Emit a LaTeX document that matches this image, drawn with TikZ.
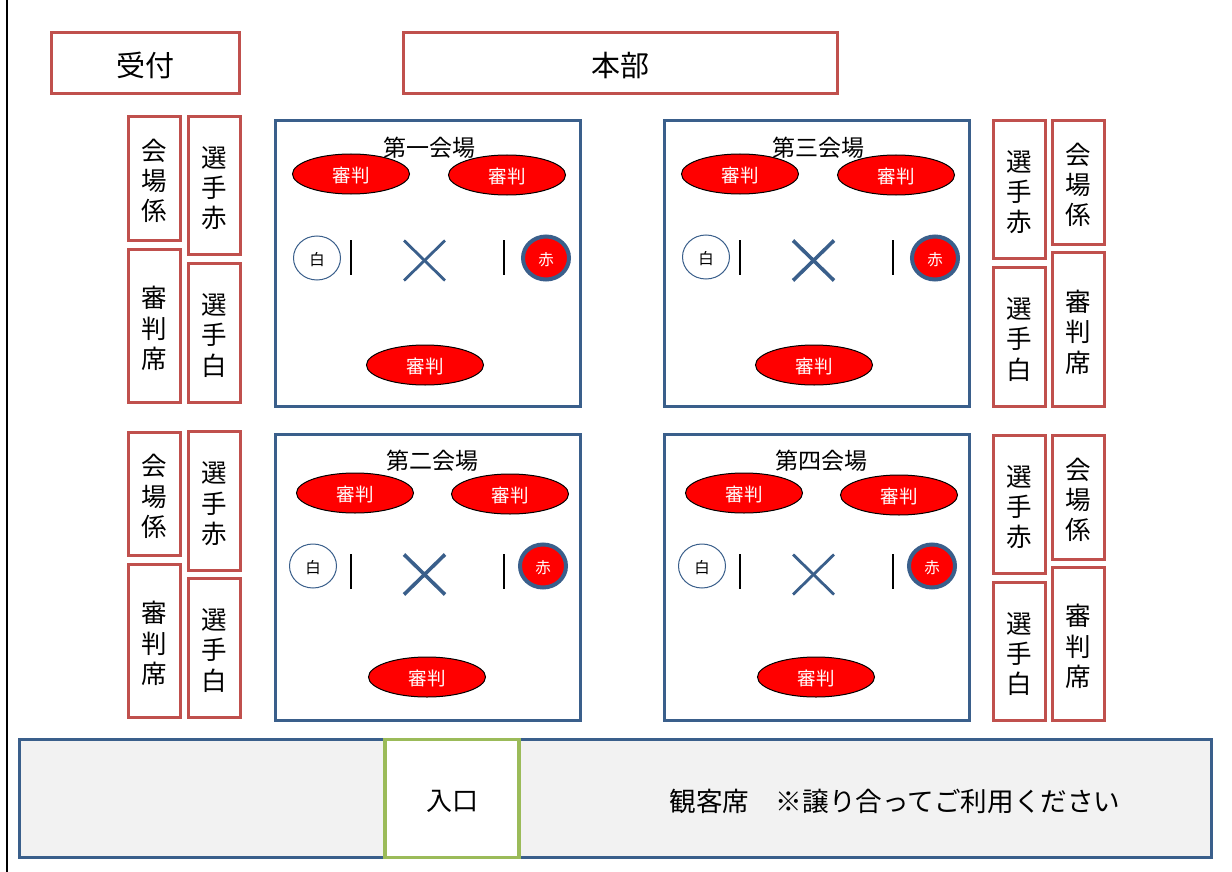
\documentclass[tikz,border=0pt]{standalone}
\usepackage{fontspec}
\setmainfont{Noto Sans CJK JP}
\usetikzlibrary{shapes,positioning}
\definecolor{bordred}{HTML}{C0504D}
\definecolor{bordblue}{HTML}{3A5F8B}
\definecolor{bordgreen}{HTML}{9BBB59}
\definecolor{seatgray}{HTML}{F2F2F2}
\newcommand{\tatetxt}[1]{\raisebox{-6pt}[\height][\depth]{\begin{tabular}{@{}c@{}}#1\end{tabular}}}
\tikzset{
    frame/.style={draw=bordred, line width=3.2pt, fill=white, inner sep=0pt},
    redbox/.style={frame, font=\fontsize{25.5}{30}\selectfont},
    topbox/.style={frame, font=\fontsize{29}{30}\selectfont, execute at begin node=\rule{0pt}{30pt}},
    hallbox/.style={draw=bordblue, line width=3.2pt, fill=white, inner sep=0pt, minimum width=305pt, minimum height=286pt},
    referee/.style={ellipse, draw=black, line width=1pt, fill=red, text=white, inner sep=0pt, minimum width=117pt, minimum height=40pt, font=\fontsize{18.5}{20}\selectfont, execute at begin node=\rule{0pt}{19pt}},
    whiteside/.style={ellipse, draw=bordblue, line width=1pt, fill=white, inner sep=0pt, minimum width=47pt, minimum height=44pt, font=\fontsize{15.5}{18}\selectfont, execute at begin node=\rule{0pt}{16pt}},
    redside/.style={ellipse, draw=bordblue, line width=4pt, fill=red, text=white, inner sep=0pt, minimum width=46pt, minimum height=43pt, font=\fontsize{15.5}{18}\selectfont, execute at begin node=\rule{0pt}{16pt}},
    hallname/.style={inner sep=0pt, font=\fontsize{23}{24}\selectfont},
    bar/.style={draw=black, line width=2.8pt},
    crossline/.style={draw=bordblue},
}
\begin{document}
\begin{tikzpicture}[x=1pt, y=-1pt]
    \useasboundingbox (0,0) rectangle (1232,872);
    \draw[black, line width=2.4pt] (7,0) -- (7,872);
    % top row
    \node[topbox, minimum width=188pt, minimum height=61pt] (uketsuke) at (145.5,63) {受付};
    \node[topbox, minimum width=434pt, minimum height=61pt] (honbu) at (620.5,63) {本部};
    % staff boxes
    \foreach \nm/\bx/\by/\bh/\txt in {
        la/154.5/178.5/124/{会\\場\\係}, lb/154.5/326/153/{審\\判\\席},
        lc/214.5/185.5/138/{選\\手\\赤}, ld/214.5/333/139/{選\\手\\白},
        le/154.5/494/123/{会\\場\\係}, lf/154.5/641/153/{審\\判\\席},
        lg/214.5/501/139/{選\\手\\赤}, lh/214.5/648/139/{選\\手\\白},
        ra/1019.5/189.5/138/{選\\手\\赤}, rb/1019.5/337/139/{選\\手\\白},
        rc/1078.5/182.5/124/{会\\場\\係}, rd/1078.5/329.5/154/{審\\判\\席},
        re/1019.5/504.5/138/{選\\手\\赤}, rf/1019.5/651.5/138/{選\\手\\白},
        rg/1078.5/497.5/124/{会\\場\\係}, rh/1078.5/644/153/{審\\判\\席}}
        \node[redbox, minimum width=52pt, minimum height=\bh pt] (\nm) at (\bx,\by) {\tatetxt{\txt}};
    % the four halls
    \foreach \h/\hx/\hy/\ttl/\tx/\ty/\ax/\ay/\bx/\by/\cx/\cy/\wx/\wy/\rx/\ry/\cw in {
        one/428/263.5/第一会場/429/148/351/174/507/175/425/365/317/258/546/258/2.8,
        three/817/263.5/第三会場/818/148/740/174/896/175/814/365/706/257/935/258/3.6,
        two/428/577.5/第二会場/432/461/355/493/510/494/427/677/313/566/543/566/3.6,
        four/817/577.5/第四会場/821/461/744/493/899/495/816/677/702/566/932/566/2.8}
    {
        \node[hallbox] (\h box) at (\hx,\hy) {};
        \node[hallname] (\h name) at (\tx,\ty) {\ttl};
        \node[referee] (\h refa) at (\ax,\ay) {審判};
        \node[referee] (\h refb) at (\bx,\by) {審判};
        \node[referee] (\h refc) at (\cx,\cy) {審判};
        \node[whiteside] (\h white) at (\wx,\wy) {白};
        \node[redside] (\h red) at (\rx,\ry) {赤};
        \draw[bar] (\hx-77,\hy-23.5) -- (\hx-77,\hy+11.5);
        \draw[bar] (\hx+76,\hy-23.5) -- (\hx+76,\hy+11.5);
        \draw[crossline, line width=\cw pt] (\hx-24,\hy-23) -- (\hx+17,\hy+17);
        \draw[crossline, line width=\cw pt] (\hx+17,\hy-23) -- (\hx-24,\hy+17);
    }
    % seating
    \node[draw=bordblue, line width=3.2pt, fill=seatgray, inner sep=0pt, minimum width=1192pt, minimum height=118pt] (seats) at (615.5,798.5) {};
    \node[draw=bordgreen, line width=3.2pt, fill=white, inner sep=0pt, minimum width=134pt, minimum height=118pt, font=\fontsize{26}{30}\selectfont, execute at begin node=\rule{0pt}{26pt}] (entrance) at (452,798.5) {入口};
    \node[inner sep=0pt, font=\fontsize{26.6}{30}\selectfont] (seatnote) at (895,801) {観客席　※譲り合ってご利用ください};
\end{tikzpicture}
\end{document}
